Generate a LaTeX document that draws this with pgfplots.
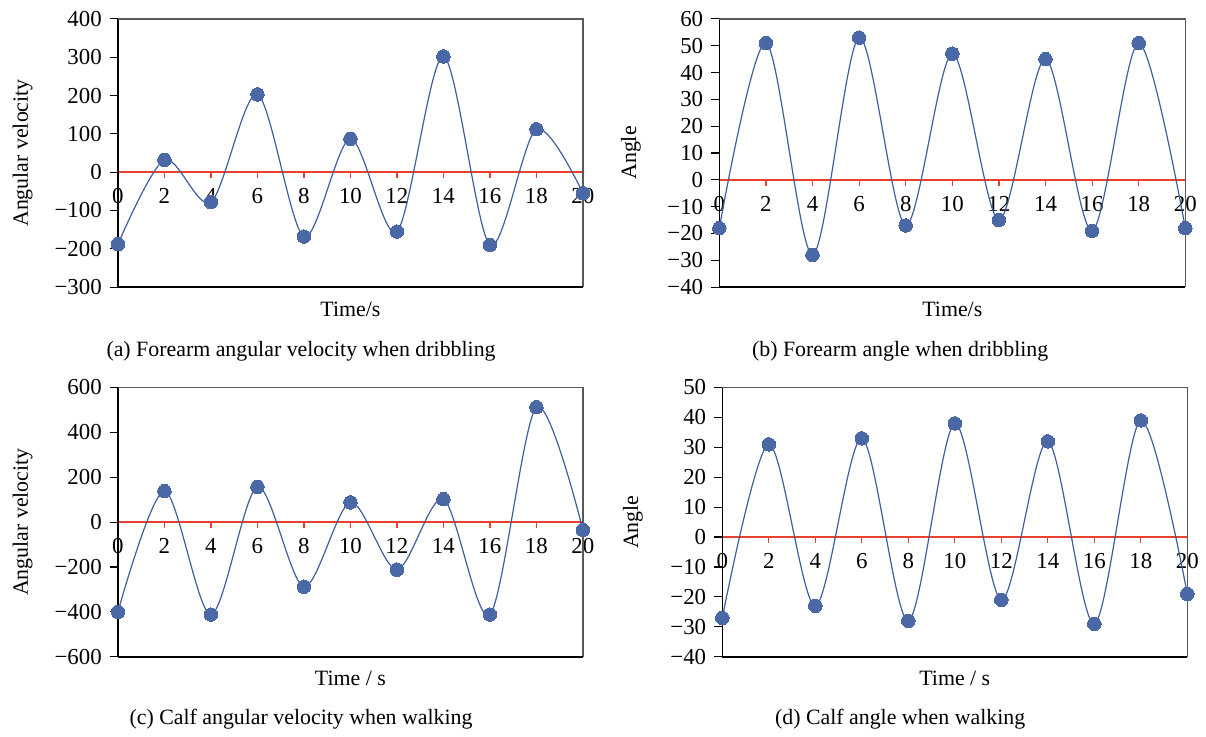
\documentclass[border=0pt]{standalone}
\usepackage{pgfplots}
\pgfplotsset{compat=1.18}
\usepackage{fontspec}
\setmainfont{Liberation Serif}
\definecolor{curveblue}{HTML}{3F5E9E}
\definecolor{markblue}{HTML}{4A68A6}
\definecolor{zerored}{HTML}{E8412F}
\pgfplotsset{
  panel/.style={
    scale only axis,
    xmin=0, xmax=20,
    axis x line*=middle,
    axis y line*=left,
    x axis line style={zerored, line width=0.8pt, -},
    y axis line style={black, line width=0.8pt, -},
    xtick={0,2,...,20},
    xtick align=outside,
    ytick align=outside,
    x tick style={zerored, line width=0.6pt, /pgfplots/major tick length=3pt},
    y tick style={black, line width=0.6pt, /pgfplots/major tick length=4pt},
    hide obscured x ticks=false,
    hide obscured y ticks=false,
    tick label style={font=\fontsize{11.5}{13}\selectfont},
    /pgf/number format/assume math mode=true,
    clip=false,
  },
  curve/.style={smooth, color=curveblue, line width=0.6pt, mark=*, mark size=3.4pt,
    mark options={fill=markblue, draw=markblue, line width=0pt}},
}
\newcommand{\frameit}{%
  \draw[black!65, line width=0.8pt] (rel axis cs:0,1) -- (rel axis cs:1,1) -- (rel axis cs:1,0);
  \draw[black, line width=0.8pt] (rel axis cs:0,0) -- (rel axis cs:1,0);}
\begin{document}
\begin{tikzpicture}
\fontsize{11}{13}\selectfont
\path (0,0) rectangle (603pt,368.5pt);

% (a)
\begin{axis}[panel, at={(59.35pt,224pt)}, anchor=south west, width=234pt, height=135pt,
  ymin=-300, ymax=400, ytick={-300,-200,...,400},
  yticklabels={−300,−200,−100,0,100,200,300,400}]
\frameit
\addplot[curve] table {
0 -188
2 32
4 -78
6 203
8 -168
10 87
12 -155
14 302
16 -190
18 112
20 -55
};
\node[rotate=90] at ([xshift=-48pt]rel axis cs:0,0.5) {Angular velocity};
\node at ([yshift=-11pt]rel axis cs:0.5,0) {Time/s};
\end{axis}

% (b)
\begin{axis}[panel, at={(362pt,224pt)}, anchor=south west, width=234.5pt, height=135pt,
  ymin=-40, ymax=60, ytick={-40,-30,...,60},
  yticklabels={−40,−30,−20,−10,0,10,20,30,40,50,60}]
\frameit
\addplot[curve] table {
0 -18
2 51
4 -28
6 53
8 -17
10 47
12 -15
14 45
16 -19
18 51
20 -18
};
\node[rotate=90] at ([xshift=-44.5pt]rel axis cs:0,0.5) {Angle};
\node at ([yshift=-11pt]rel axis cs:0.5,0) {Time/s};
\end{axis}

% (c)
\begin{axis}[panel, at={(59.35pt,38pt)}, anchor=south west, width=234pt, height=135.5pt,
  ymin=-600, ymax=600, ytick={-600,-400,...,600},
  yticklabels={−600,−400,−200,0,200,400,600}]
\frameit
\addplot[curve] table {
0 -400
2 138
4 -412
6 157
8 -288
10 88
12 -212
14 102
16 -412
18 512
20 -35
};
\node[rotate=90] at ([xshift=-48pt]rel axis cs:0,0.5) {Angular velocity};
\node at ([yshift=-11pt]rel axis cs:0.5,0) {Time / s};
\end{axis}

% (d)
\begin{axis}[panel, at={(363.5pt,38pt)}, anchor=south west, width=234pt, height=135.5pt,
  ymin=-40, ymax=50, ytick={-40,-30,...,50},
  yticklabels={−40,−30,−20,−10,0,10,20,30,40,50}]
\frameit
\addplot[curve] table {
0 -27
2 31
4 -23
6 33
8 -28
10 38
12 -21
14 32
16 -29
18 39
20 -19
};
\node[rotate=90] at ([xshift=-45pt]rel axis cs:0,0.5) {Angle};
\node at ([yshift=-11pt]rel axis cs:0.5,0) {Time / s};
\end{axis}

\node at (151.5pt,191.5pt) {(a) Forearm angular velocity when dribbling};
\node at (453pt,191.5pt) {(b) Forearm angle when dribbling};
\node at (151.5pt,6.5pt) {(c) Calf angular velocity when walking};
\node at (453pt,6.5pt) {(d) Calf angle when walking};
\end{tikzpicture}
\end{document}
